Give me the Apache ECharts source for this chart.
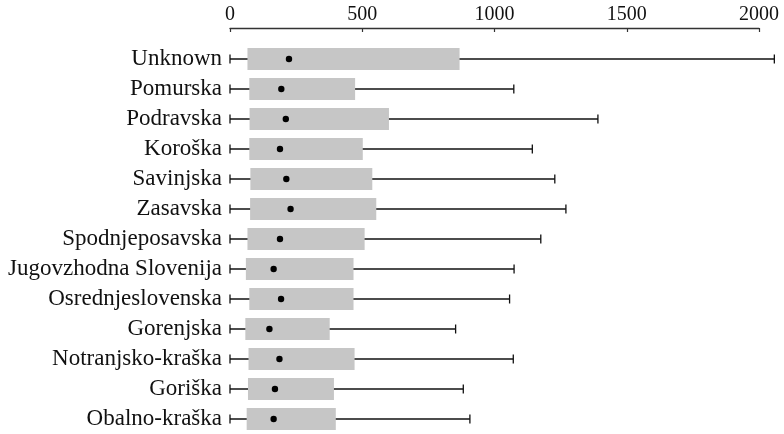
<!DOCTYPE html>
<html>
<head>
<meta charset="utf-8">
<script src="https://cdn.jsdelivr.net/npm/echarts@6/dist/echarts.min.js"></script>
<style>
    html, body { margin: 0; padding: 0; background: #fff; }
    #main { width: 784px; height: 434px; }
</style>
</head>
<body>
<div id="main"></div>
<script>
    // regije (od zgoraj navzdol)
    var categories = ['Unknown', 'Pomurska', 'Podravska', 'Koroška', 'Savinjska', 'Zasavska',
        'Spodnjeposavska', 'Jugovzhodna Slovenija', 'Osrednjeslovenska', 'Gorenjska',
        'Notranjsko-kraška', 'Goriška', 'Obalno-kraška'];
    var minVals = [0, 0, 0, 0, 0, 0, 0, 0, 0, 0, 0, 0, 0];
    var q1Vals = [66, 73, 74, 73, 77, 76, 66, 60, 73, 58, 70, 68, 63];
    var medianVals = [223, 194, 211, 189, 213, 229, 189, 165, 193, 149, 187, 170, 165];
    var q3Vals = [868, 473, 601, 502, 538, 553, 509, 467, 467, 377, 471, 393, 400];
    var maxVals = [2058, 1073, 1391, 1143, 1228, 1270, 1175, 1074, 1057, 853, 1071, 882, 907];
    var tickValues = [0, 500, 1000, 1500, 2000];

    var data = [];
    for (var i = 0; i < categories.length; i++) {
        data.push([i, minVals[i], q1Vals[i], medianVals[i], q3Vals[i], maxVals[i]]);
    }

    var myChart = echarts.init(document.getElementById('main'));

    function renderItem(params, api) {
        var idx = api.value(0);
        var pMin = api.coord([api.value(1), idx]);
        var pQ1 = api.coord([api.value(2), idx]);
        var pMed = api.coord([api.value(3), idx]);
        var pQ3 = api.coord([api.value(4), idx]);
        var pMax = api.coord([api.value(5), idx]);
        var band = api.size([0, 1])[1];
        var boxH = band * 0.73;
        var y = pMin[1];
        var capH = 4.5;
        var lineStyle = {stroke: '#111', lineWidth: 1.3};
        return {
            type: 'group',
            children: [
                {type: 'line', shape: {x1: pMin[0], y1: y, x2: pMax[0], y2: y}, style: lineStyle},
                {type: 'line', shape: {x1: pMin[0], y1: y - capH, x2: pMin[0], y2: y + capH}, style: lineStyle},
                {type: 'line', shape: {x1: pMax[0], y1: y - capH, x2: pMax[0], y2: y + capH}, style: lineStyle},
                {type: 'rect', shape: {x: pQ1[0], y: y - boxH / 2, width: pQ3[0] - pQ1[0], height: boxH},
                    style: {fill: '#c6c6c6'}},
                {type: 'circle', shape: {cx: pMed[0], cy: y, r: 3.2}, style: {fill: '#000'}}
            ]
        };
    }

    myChart.setOption({
        animation: false,
        grid: {left: 230, right: 25, top: 44, height: 392},
        xAxis: {
            type: 'value',
            position: 'top',
            offset: 16,
            min: 0,
            max: 2000,
            interval: 500,
            splitLine: {show: false},
            axisLine: {show: true, lineStyle: {color: '#333', width: 1.3}},
            axisTick: {show: true, inside: true, length: 4, lineStyle: {color: '#333', width: 1.2}},
            axisLabel: {
                margin: 3,
                color: '#111',
                fontFamily: 'Liberation Serif',
                fontSize: 20,
                formatter: function (v) { return String(v); },
                customValues: tickValues
            }
        },
        yAxis: {
            type: 'category',
            data: categories,
            inverse: true,
            axisLine: {show: false},
            axisTick: {show: false},
            axisLabel: {
                margin: 8,
                color: '#111',
                fontFamily: 'Liberation Serif',
                fontSize: 23
            }
        },
        series: [{
            type: 'custom',
            renderItem: renderItem,
            clip: false,
            encode: {x: [1, 2, 3, 4, 5], y: 0},
            data: data
        }]
    });
</script>
</body>
</html>
